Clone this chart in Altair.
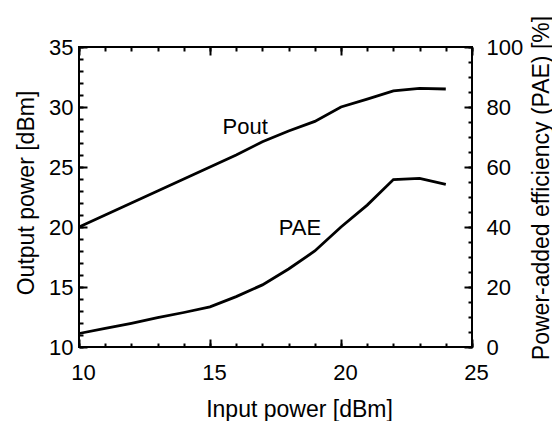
import altair as alt
import pandas as pd

# ---- data ----
input_power = [10, 11, 12, 13, 14, 15, 16, 17, 18, 19, 20, 21, 22, 23, 24]
pout = [20.0, 21.0, 22.0, 23.0, 24.0, 25.0, 26.0, 27.1, 28.0, 28.8, 30.0, 30.65, 31.35, 31.55, 31.5]
pae = [4.5, 6.2, 7.9, 9.8, 11.5, 13.4, 16.8, 20.7, 26.0, 32.0, 40.0, 47.3, 55.8, 56.2, 54.2]

x_major = [10, 15, 20, 25]
x_minor = list(range(10, 26))
left_major = [10, 15, 20, 25, 30, 35]
left_minor = list(range(10, 36))
right_major = [0, 20, 40, 60, 80, 100]
right_minor = list(range(0, 101, 5))

label_text = ["Pout", "PAE"]
label_x = [16.34, 18.43]
label_y = [28.35, 19.9]

FONT = "Liberation Sans"
MAJ = 8
MIN = 4

df = pd.DataFrame({"input": input_power, "pout": pout, "pae": pae})
labels_df = pd.DataFrame({"text": label_text, "x": label_x, "y": label_y})

xs = alt.Scale(domain=[10, 25], nice=False, zero=False)
ys_l = alt.Scale(domain=[10, 35], nice=False, zero=False)
ys_r = alt.Scale(domain=[0, 100], nice=False, zero=False)


def tick_axis(orient, values, size, **kw):
    return alt.Axis(orient=orient, values=values, tickSize=size, offset=-size,
                    domain=False, grid=False, labelFlush=False, **kw)


x_bottom_major = tick_axis("bottom", x_major, MAJ, labels=True, labelPadding=15,
                           labelOffset=4, title="Input power [dBm]",
                           titleX=220, titleY=77, titleAlign="center",
                           titleBaseline="alphabetic")
x_bottom_minor = tick_axis("bottom", x_minor, MIN, labels=False, title="")
x_top_major = tick_axis("top", x_major, MAJ, labels=False, title="")
x_top_minor = tick_axis("top", x_minor, MIN, labels=False, title="")

y_left_major = tick_axis("left", left_major, MAJ, labels=True, labelPadding=6,
                         title="Output power [dBm]", titleAngle=270,
                         titleX=-53.5, titleY=145.5, titleAlign="center",
                         titleBaseline="alphabetic")
y_left_minor = tick_axis("left", left_minor, MIN, labels=False, title="")

y_right_major = tick_axis("right", right_major, MAJ, labels=True, labelPadding=14,
                          title="Power-added efficiency (PAE) [%]", titleAngle=270,
                          titleX=84, titleY=140.5, titleAlign="center",
                          titleBaseline="alphabetic")
y_right_minor = tick_axis("right", right_minor, MIN, labels=False, title="")

base = alt.Chart(df)

pout_line = base.mark_line(color="black", strokeWidth=2.8).encode(
    x=alt.X("input:Q", scale=xs, axis=x_bottom_major),
    y=alt.Y("pout:Q", scale=ys_l, axis=y_left_major),
)
pout_a1 = base.mark_line(opacity=0).encode(
    x=alt.X("input:Q", scale=xs, axis=x_bottom_minor),
    y=alt.Y("pout:Q", scale=ys_l, axis=y_left_minor),
)
pout_a2 = base.mark_line(opacity=0).encode(
    x=alt.X("input:Q", scale=xs, axis=x_top_major),
    y=alt.Y("pout:Q", scale=ys_l, axis=None),
)
pout_a3 = base.mark_line(opacity=0).encode(
    x=alt.X("input:Q", scale=xs, axis=x_top_minor),
    y=alt.Y("pout:Q", scale=ys_l, axis=None),
)
texts = alt.Chart(labels_df).mark_text(
    font=FONT, fontSize=22, color="black", align="center", baseline="middle"
).encode(
    x=alt.X("x:Q", scale=xs, axis=None),
    y=alt.Y("y:Q", scale=ys_l, axis=None),
    text="text:N",
)
left_group = alt.layer(pout_line, pout_a1, pout_a2, pout_a3, texts).resolve_axis(
    x="independent", y="independent"
)

pae_line = base.mark_line(color="black", strokeWidth=2.8).encode(
    x=alt.X("input:Q", scale=xs, axis=None),
    y=alt.Y("pae:Q", scale=ys_r, axis=y_right_major),
)
pae_a1 = base.mark_line(opacity=0).encode(
    x=alt.X("input:Q", scale=xs, axis=None),
    y=alt.Y("pae:Q", scale=ys_r, axis=y_right_minor),
)
right_group = alt.layer(pae_line, pae_a1).resolve_axis(y="independent")

chart = (
    alt.layer(left_group, right_group)
    .resolve_scale(y="independent")
    .resolve_axis(x="independent", y="independent")
    .properties(
        width=393,
        height=300,
        autosize=alt.AutoSizeParams(type="none"),
        padding={"left": 71, "top": 39, "right": 80, "bottom": 74},
        background="white",
    )
    .configure_view(stroke="black", strokeWidth=2)
    .configure_axis(
        labelFont=FONT, labelFontSize=22, labelColor="black",
        titleFont=FONT, titleFontSize=23, titleFontWeight="normal", titleColor="black",
        tickColor="black", tickWidth=2,
    )
)

chart.save("out.html", embed_options={"renderer": "svg", "actions": False})
